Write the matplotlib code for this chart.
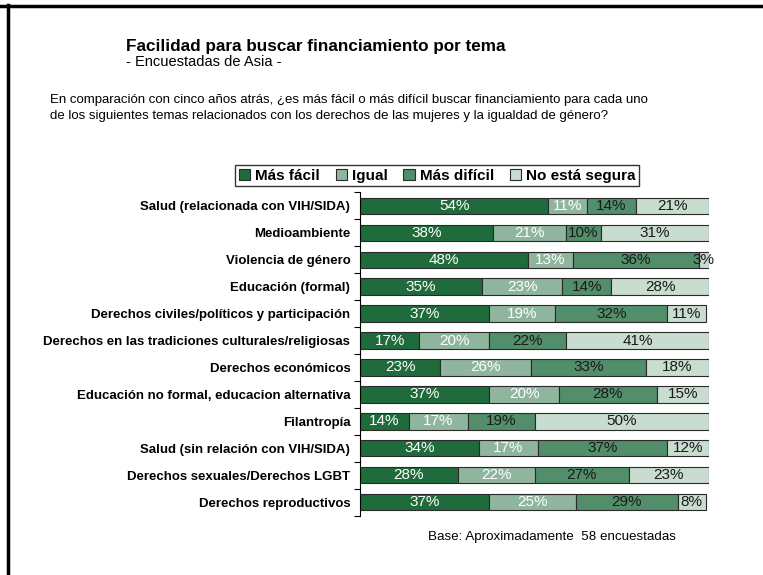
import numpy as np
import matplotlib
matplotlib.use("Agg")
import matplotlib.pyplot as plt
from matplotlib.lines import Line2D
from matplotlib.patches import Patch

plt.rcParams['font.family'] = ['Liberation Sans', 'DejaVu Sans']

categories = [
    "Salud (relacionada con VIH/SIDA)",
    "Medioambiente",
    "Violencia de género",
    "Educación (formal)",
    "Derechos civiles/políticos y participación",
    "Derechos en las tradiciones culturales/religiosas",
    "Derechos económicos",
    "Educación no formal, educacion alternativa",
    "Filantropía",
    "Salud (sin relación con VIH/SIDA)",
    "Derechos sexuales/Derechos LGBT",
    "Derechos reproductivos",
]
series_names = ["Más fácil", "Igual", "Más difícil", "No está segura"]
mas_facil = [54, 38, 48, 35, 37, 17, 23, 37, 14, 34, 28, 37]
igual = [11, 21, 13, 23, 19, 20, 26, 20, 17, 17, 22, 25]
mas_dificil = [14, 10, 36, 14, 32, 22, 33, 28, 19, 37, 27, 29]
no_segura = [21, 31, 3, 28, 11, 41, 18, 15, 50, 12, 23, 8]

colors = ["#1f6b3b", "#8fb59e", "#528e6a", "#c8dccf"]
text_colors = ["white", "white", "#1a1a1a", "#1a1a1a"]

fig = plt.figure(figsize=(7.63, 5.75), dpi=100)
ax = fig.add_axes([360/763, 1-515.8/575, 349/763, (515.8-192.2)/575])

y = np.arange(len(categories))
left = np.zeros(len(categories))
for name, vals, c, tc in zip(series_names, [mas_facil, igual, mas_dificil, no_segura], colors, text_colors):
    vals = np.array(vals, dtype=float)
    ax.barh(y, vals, left=left, height=0.6, color=c, edgecolor="#2a2a2a", linewidth=0.8, label=name)
    for yi, l, v in zip(y, left, vals):
        ax.text(l + v/2, yi, f"{v:.0f}%", ha="center", va="center", color=tc, fontsize=11)
    left += vals

ax.set_xlim(0, 100)
ax.set_ylim(11.5, -0.5)
ax.set_yticks(y)
ax.set_yticklabels(categories, fontsize=9.5, fontweight="bold")
ax.set_yticks(np.arange(-0.5, 12, 1), minor=True)
ax.tick_params(axis="y", which="major", length=0, pad=7)
ax.tick_params(axis="y", which="minor", length=4, direction="out", width=0.8)
ax.set_xticks([])
for s in ["top", "right", "bottom"]:
    ax.spines[s].set_visible(False)
ax.spines["left"].set_linewidth(0.8)

handles = [Patch(facecolor=c, edgecolor="#2a2a2a", linewidth=0.8) for c in colors]
leg = fig.legend(handles, series_names, loc="center", bbox_to_anchor=(437/763, 1-175.5/575),
                 ncol=4, frameon=True, fancybox=False, edgecolor="black",
                 prop={"weight": "bold", "size": 11}, handlelength=0.75, handleheight=0.75,
                 handletextpad=0.3, columnspacing=1.05, borderpad=0.25)
leg.get_frame().set_linewidth(1.0)

fig.text(126/763, 1-46/575, "Facilidad para buscar financiamiento por tema", fontsize=12.3,
         fontweight="bold", ha="left", va="center")
fig.text(126/763, 1-62/575, "- Encuestadas de Asia -", fontsize=10.5, ha="left", va="center")
fig.text(50/763, 1-100/575, "En comparación con cinco años atrás, ¿es más fácil o más difícil buscar financiamiento para cada uno",
         fontsize=9.5, ha="left", va="center")
fig.text(50/763, 1-116/575, "de los siguientes temas relacionados con los derechos de las mujeres y la igualdad de género?",
         fontsize=9.5, ha="left", va="center")
fig.text(428/763, 1-537/575, "Base: Aproximadamente  58 encuestadas", fontsize=9.6, ha="left", va="center")

fig.add_artist(Line2D([0, 1], [1-6/575, 1-6/575], transform=fig.transFigure, color="black", linewidth=2.5))
fig.add_artist(Line2D([8/763, 8/763], [0, 1-5/575], transform=fig.transFigure, color="black", linewidth=2.5))

fig.savefig("out.png", dpi=100)
